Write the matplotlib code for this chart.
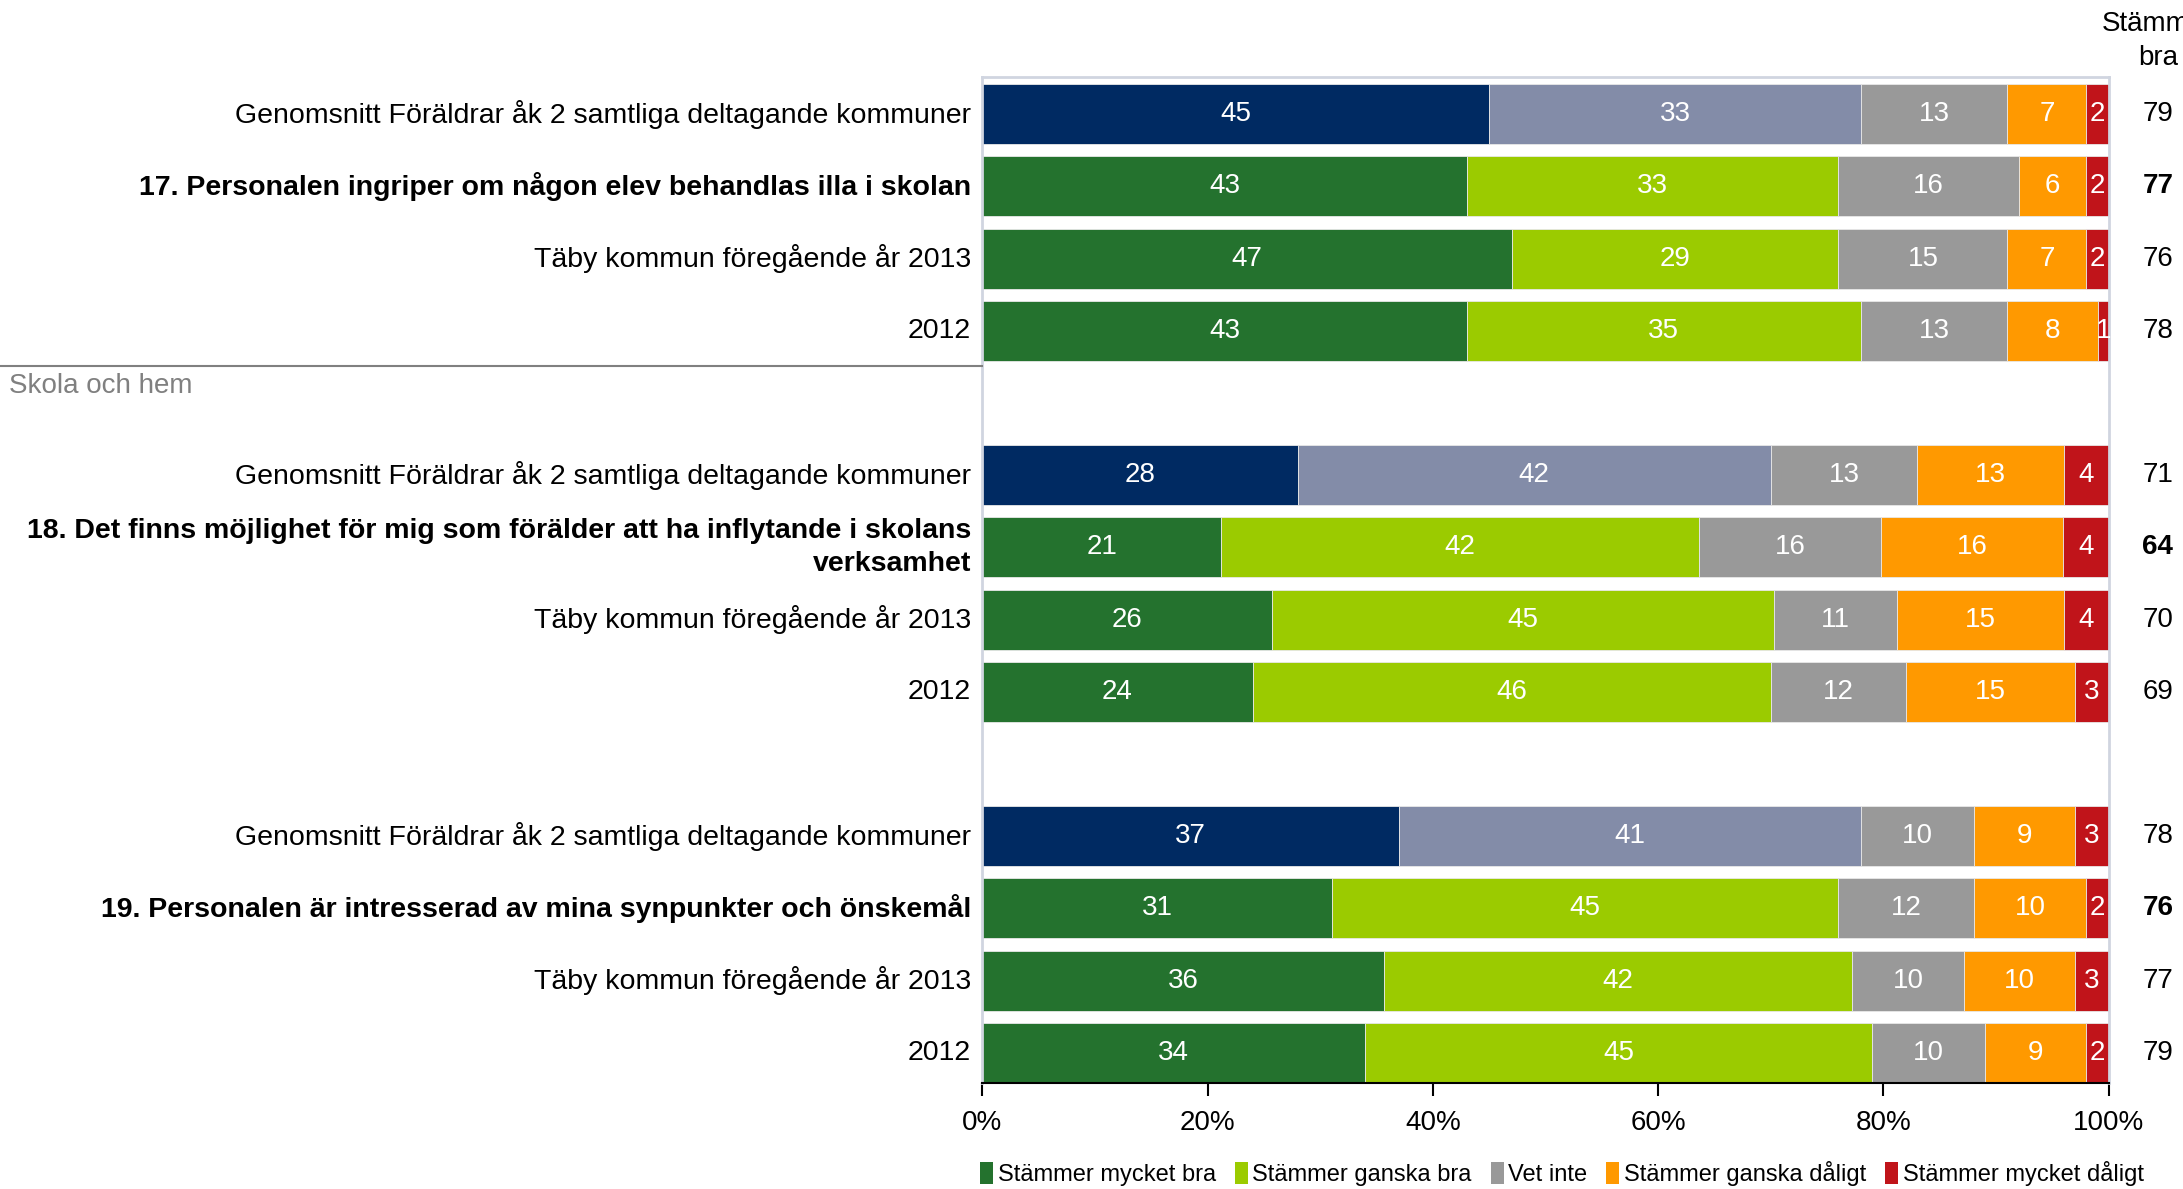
import matplotlib
matplotlib.use("Agg")
import matplotlib.pyplot as plt
from matplotlib.patches import Patch
import numpy as np

plt.rcParams['font.family'] = ['Liberation Sans', 'DejaVu Sans']

row_labels = [
    "Genomsnitt Föräldrar åk 2 samtliga deltagande kommuner",
    "17. Personalen ingriper om någon elev behandlas illa i skolan",
    "Täby kommun föregående år 2013",
    "2012",
    "Genomsnitt Föräldrar åk 2 samtliga deltagande kommuner",
    "18. Det finns möjlighet för mig som förälder att ha inflytande i skolans\nverksamhet",
    "Täby kommun föregående år 2013",
    "2012",
    "Genomsnitt Föräldrar åk 2 samtliga deltagande kommuner",
    "19. Personalen är intresserad av mina synpunkter och önskemål",
    "Täby kommun föregående år 2013",
    "2012",
]
row_pos = [0, 1, 2, 3, 5, 6, 7, 8, 10, 11, 12, 13]
is_question = [False, True, False, False] * 3
is_average = [True, False, False, False] * 3

mycket_bra = [45, 43, 47, 43, 28, 21, 26, 24, 37, 31, 36, 34]
ganska_bra = [33, 33, 29, 35, 42, 42, 45, 46, 41, 45, 42, 45]
vet_inte = [13, 16, 15, 13, 13, 16, 11, 12, 10, 12, 10, 10]
ganska_daligt = [7, 6, 7, 8, 13, 16, 15, 15, 9, 10, 10, 9]
mycket_daligt = [2, 2, 2, 1, 4, 4, 4, 3, 3, 2, 3, 2]

stammer_bra = [79, 77, 76, 78, 71, 64, 70, 69, 78, 76, 77, 79]

series_names = ["Stämmer mycket bra", "Stämmer ganska bra", "Vet inte",
                "Stämmer ganska dåligt", "Stämmer mycket dåligt"]
colors = ["#24722E", "#9BCB00", "#999999", "#FF9900", "#C0141A"]
avg_colors = ["#002A62", "#838CA8", "#999999", "#FF9900", "#C0141A"]

data = np.array([mycket_bra, ganska_bra, vet_inte, ganska_daligt, mycket_daligt], dtype=float)
pct = data / data.sum(axis=0) * 100

fig = plt.figure(figsize=(21.83, 11.89), dpi=100)
ax = fig.add_axes([0.450, 0.089, 0.516, 0.846])

left = np.zeros(len(row_pos))
for k in range(5):
    cols = [avg_colors[k] if a else colors[k] for a in is_average]
    ax.barh(row_pos, pct[k], left=left, height=0.83, color=cols,
            edgecolor="#E8E8E8", linewidth=0.6)
    for i, y in enumerate(row_pos):
        ax.text(left[i] + pct[k][i] / 2, y, f"{int(data[k][i])}", color="white",
                ha="center", va="center", fontsize=20)
    left += pct[k]

ax.set_xlim(0, 100)
ax.set_ylim(13.42, -0.51)
ax.set_yticks([])
ax.set_xticks([0, 20, 40, 60, 80, 100])
ax.set_xticklabels(["0%", "20%", "40%", "60%", "80%", "100%"], fontsize=20)
ax.tick_params(axis='x', direction='out', length=9, width=1.5, pad=10)
for s in ["top", "right", "left"]:
    ax.spines[s].set_color("#D0D5E0")
    ax.spines[s].set_linewidth(2)
ax.spines["bottom"].set_color("black")
ax.spines["bottom"].set_linewidth(1.5)

for i, y in enumerate(row_pos):
    ax.text(-1.0, y, row_labels[i], ha="right", va="center", fontsize=20.5,
            fontweight="bold" if is_question[i] else "normal", linespacing=1.32)
    ax.text(104.35, y, str(stammer_bra[i]), ha="center", va="center", fontsize=20,
            fontweight="bold" if is_question[i] else "normal")

# column header, partly outside the figure like the original
fig.text(2158 / 2183, 1 - 24 / 1189, "Stämmer", ha="center", va="center", fontsize=20)
fig.text(2158 / 2183, 1 - 58 / 1189, "bra", ha="center", va="center", fontsize=20)

# section divider
fig.add_artist(plt.Line2D([0, 0.450], [1 - 366 / 1189, 1 - 366 / 1189],
                          color="#808080", linewidth=1.5))
fig.text(0.004, 1 - 386 / 1189, "Skola och hem", color="#808080", fontsize=20,
         ha="left", va="center")

handles = [Patch(facecolor=c) for c in colors]
fig.legend(handles, series_names, loc="center", bbox_to_anchor=(0.7155, 0.013),
           ncol=5, frameon=False, fontsize=17, handlelength=0.55, handleheight=1.0,
           handletextpad=0.2, columnspacing=0.8)

fig.savefig("out.png", dpi=100)
